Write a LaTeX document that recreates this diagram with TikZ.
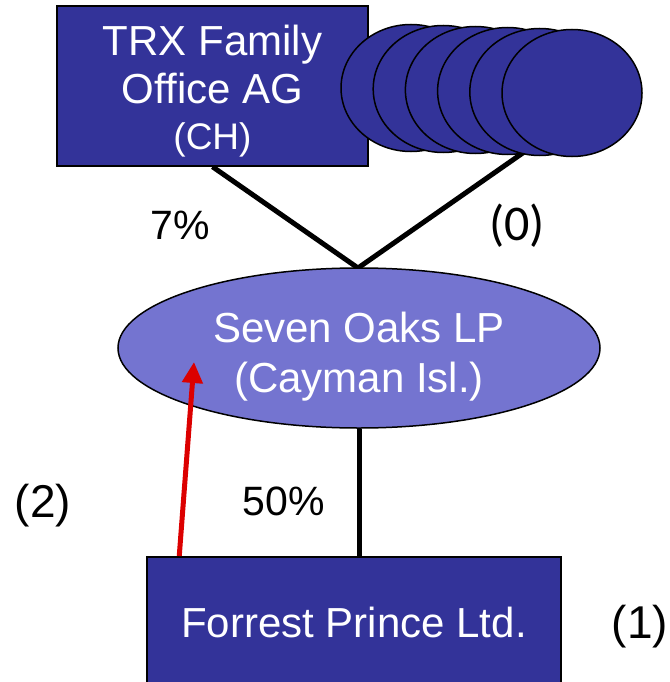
\documentclass[tikz,border=0pt]{standalone}
\usepackage{fontspec}
\setmainfont{Liberation Sans}
\newfontfamily\calibfont{Carlito}
\usetikzlibrary{shapes.geometric,arrows.meta,backgrounds}
\definecolor{boxblue}{RGB}{51,51,153}
\definecolor{lpblue}{RGB}{116,116,208}
\definecolor{arrowred}{RGB}{220,0,0}
\begin{document}
\begin{tikzpicture}[x=1pt,y=-1pt,
  entity/.style={draw=black,line width=1.5pt,fill=boxblue,inner sep=0pt},
  holder/.style={ellipse,draw=black,line width=1.5pt,fill=boxblue,
    minimum width=140pt,minimum height=127pt,inner sep=0pt},
  partnership/.style={ellipse,draw=black,line width=1.5pt,fill=lpblue,
    minimum width=482pt,minimum height=160pt,inner sep=0pt},
  nametext/.style={text=white,align=center,inner sep=0pt,
    font=\fontsize{42}{50}\selectfont},
  share/.style={line width=5pt,draw=black},
  note/.style={inner sep=0pt,anchor=base,font=\fontsize{41}{48}\selectfont},
  tag/.style={inner sep=0pt,anchor=base,font=\fontsize{46}{50}\selectfont},
]
\clip (0,0) rectangle (669,682);

% shareholders
\node[entity,minimum width=311pt,minimum height=160pt] (trx) at (212.5,86) {};
\node[nametext] (trxtext) at (212.5,91)
  {TRX Family\\[-2pt]Office AG\\[-4pt]{\fontsize{37}{40}\selectfont (CH)}};
\foreach \i in {0,...,5}
  \node[holder] (c\i) at ({411+32.2*\i},{88+\i}) {};

% the partnership
\node[partnership] (so) at (359,348) {};
\node[nametext] (sotext) at (359,357) {Seven Oaks LP\\(Cayman Isl.)};

% the company
\node[entity,minimum width=414pt,minimum height=150pt,anchor=north] (fp) at (354,556) {};
\node[nametext,anchor=base] (fptext) at (354,637) {Forrest Prince Ltd.};

% ownership lines
\coordinate (j) at (358,268);
\coordinate (stack) at (560,127);
\begin{scope}[on background layer]
  \draw[share] (trx.south) -- (j);
  \draw[share] (stack) -- (j);
  \draw[share] (so.south) -- (fp.north -| so.south);
\end{scope}

% control arrow
\coordinate (rtip) at (194,362);
\draw[arrowred,line width=5pt,-{Triangle[length=21pt,width=20pt]}]
  ([xshift=33pt]fp.north west) -- (rtip);

% labels
\node[note] (pct7) at (180,239) {7\%};
\node[tag,font=\calibfont\fontsize{50}{54}\selectfont] (n0) at (517,240) {(0)};
\node[tag] (n2) at (43,517) {(2)};
\node[note] (pct50) at (284,515) {50\%};
\node[tag] (n1) at (640,638) {(1)};
\end{tikzpicture}
\end{document}
